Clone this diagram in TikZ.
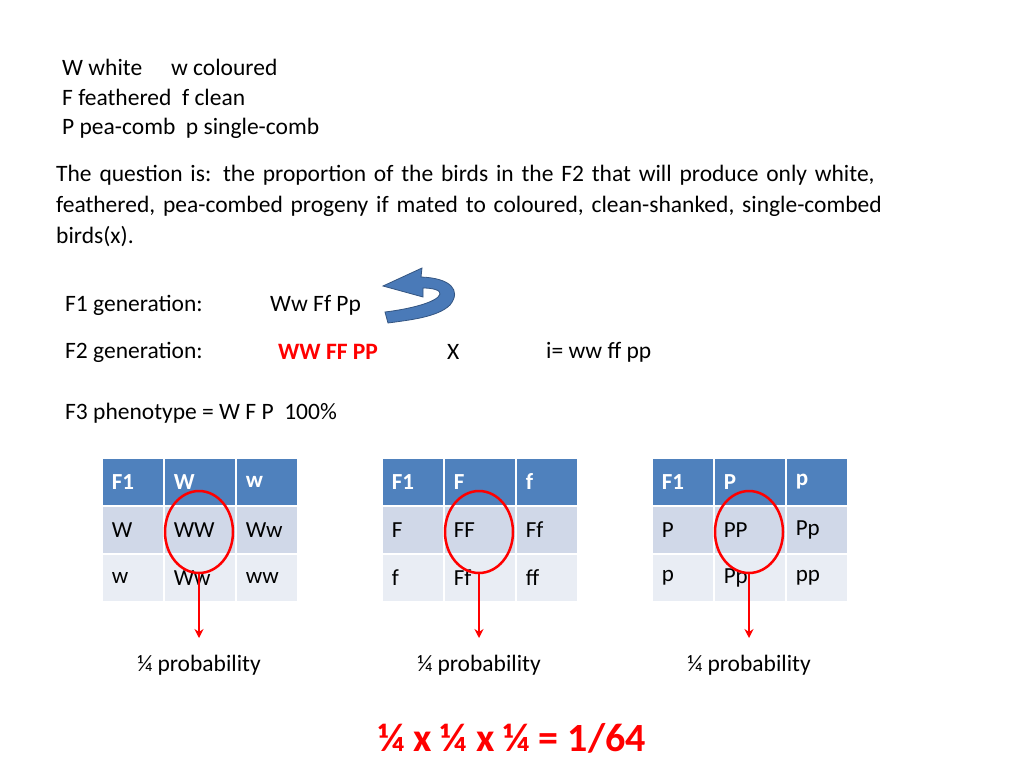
\documentclass[tikz,border=0pt]{standalone}
\usepackage{fontspec}
\setmainfont{Carlito}
\usetikzlibrary{arrows.meta}
\definecolor{hdblue}{HTML}{4F81BD}
\definecolor{rowa}{HTML}{D0D8E8}
\definecolor{rowb}{HTML}{E9EDF4}
\definecolor{arblue}{HTML}{4A7AB8}
\tikzset{
  txt/.style={anchor=west,inner sep=0pt,font=\fontsize{23.5}{31}\selectfont},
  cell/.style={draw=white,line width=1.5pt,minimum height=48pt,minimum width=#1,anchor=north west,inner xsep=0pt,inner ysep=0pt,text width=#1,align=left,font=\fontsize{23}{28}\selectfont},
  hd/.style={fill=hdblue,text=white,font=\fontsize{23}{28}\selectfont\bfseries},
  ring/.style={draw=red,line width=2.5pt},
  down/.style={draw=red,line width=2pt,-{Stealth[length=9pt,width=9pt]}}
}
% one Punnett square: #1 x, #2 prefix, #3 dominant, #4 recessive
\newcommand{\punnett}[4]{%
  \node[cell=62pt,hd] (#2h1) at (#1,457) {\hspace*{10pt}F1};
  \node[cell=72pt,hd] (#2h2) at (#1+62,457) {\hspace*{10pt}#3};
  \node[cell=62pt,hd] (#2h3) at (#1+134,457) {\hspace*{10pt}#4};
  \node[cell=62pt,fill=rowa] (#2a1) at (#1,505) {\hspace*{10pt}#3};
  \node[cell=72pt,fill=rowa] (#2a2) at (#1+62,505) {\hspace*{10pt}#3#3};
  \node[cell=62pt,fill=rowa] (#2a3) at (#1+134,505) {\hspace*{10pt}#3#4};
  \node[cell=62pt,fill=rowb] (#2b1) at (#1,553) {\hspace*{10pt}#4};
  \node[cell=72pt,fill=rowb] (#2b2) at (#1+62,553) {\hspace*{10pt}#3#4};
  \node[cell=62pt,fill=rowb] (#2b3) at (#1+134,553) {\hspace*{10pt}#4#4};
  \draw[ring] (#1+98,532) ellipse (34 and 41);
  \coordinate (#2top) at (#1+98,573);
  \node[txt,anchor=center] (#2prob) at (#1+98,665) {¼ probability};
  \draw[down] (#2top) -- (#1+98,638);
}
\begin{document}
\begin{tikzpicture}[x=1pt,y=-1pt]
\useasboundingbox (0,0) rectangle (1024,768);
\node[txt] (keyw) at (62,67) {W white\quad\ w coloured};
\node[txt] (keyf) at (62,97) {F feathered\ \ f clean};
\node[txt] (keyp) at (62,128) {P pea-comb\ \ p single-comb};
\node[txt,anchor=north west,text width=900pt,align=left] (quest) at (56,165)
  {The question is: the proportion of the birds in the F2 that will produce only white,\\ feathered, pea-combed progeny if mated to coloured, clean-shanked, single-combed\\ birds(x).};
\node[txt] (gen1) at (65,305) {F1 generation:};
\node[txt] (gen1g) at (270,305) {Ww Ff Pp};
\node[txt] (gen2) at (65,352) {F2 generation:};
\node[txt,text=red,font=\fontsize{23.5}{31}\selectfont\bfseries] (gen2g) at (278,352) {WW FF PP};
\node[txt] (cross) at (447,352) {X};
\node[txt] (test) at (546,352) {i= ww ff pp};
\node[txt] (pheno) at (65,413) {F3 phenotype = W F P\ \ 100\%};
% curved arrow
\filldraw[fill=arblue,draw=arblue!70!black,line width=0.8pt]
  (383,286) -- (422,268) -- (421,277) .. controls (450,278) and (462,290) .. (450,305)
  .. controls (438,317) and (410,320) .. (388,323) -- (385,312)
  .. controls (410,309) and (438,302) .. (440,294)
  .. controls (441,290) and (432,288) .. (423,288) -- (423,297) -- cycle;
\punnett{101}{w}{W}{w}
\punnett{381}{f}{F}{f}
\punnett{651}{p}{P}{p}
\node[text=red,inner sep=0pt,font=\fontsize{40}{44}\selectfont\bfseries] (total) at (512,738) {¼ x ¼ x ¼ = 1/64};
\end{tikzpicture}
\end{document}
